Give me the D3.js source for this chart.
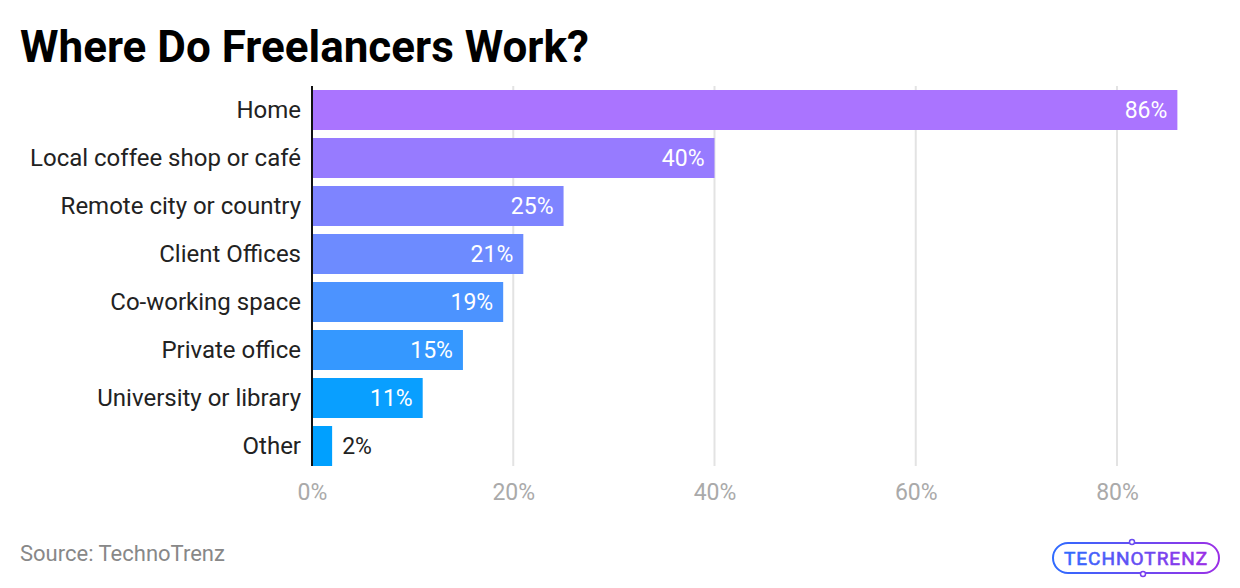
<!DOCTYPE html>
<html>
<head>
<meta charset="utf-8">
<script src="https://cdn.jsdelivr.net/npm/d3@7"></script>
<style>
  body { margin: 0; background: #fff; }
  svg { font-family: Roboto, "Noto Sans", sans-serif; display: block; }
</style>
</head>
<body>
<svg width="1240" height="588"></svg>
<script>
// data
var categories = ["Home", "Local coffee shop or café", "Remote city or country", "Client Offices",
  "Co-working space", "Private office", "University or library", "Other"];
var values = [86, 40, 25, 21, 19, 15, 11, 2];
var barColors = ["#aa74ff", "#977bff", "#7e84ff", "#6d8bff", "#4c93ff", "#3598ff", "#099fff", "#00a0ff"];
var tickValues = [0, 20, 40, 60, 80];

var svg = d3.select('svg');

var x = d3.scaleLinear().domain([0, 80]).range([312, 1117]);
var y = d3.scaleBand().domain(categories).range([86, 470])
  .paddingInner(1 / 6).paddingOuter(1 / 12);

// title
svg.append('text')
  .attr('x', 20).attr('y', 62)
  .attr('font-size', 44).attr('font-weight', 700).attr('fill', '#000')
  .text('Where Do Freelancers Work?');

// grid lines
svg.append('g').selectAll('line')
  .data(tickValues.slice(1))
  .enter().append('line')
  .attr('x1', function (d) { return x(d); })
  .attr('x2', function (d) { return x(d); })
  .attr('y1', 86).attr('y2', 466)
  .attr('stroke', '#e3e3e3').attr('stroke-width', 2);

// x axis labels
var xAxis = d3.axisBottom(x).tickValues(tickValues)
  .tickFormat(function (d) { return d + '%'; })
  .tickSize(0).tickPadding(0);
var gx = svg.append('g').attr('transform', 'translate(0,484)').call(xAxis);
gx.select('.domain').remove();
gx.selectAll('text').attr('font-size', 23).attr('fill', '#aaaaaa')
  .attr('font-family', 'Roboto, sans-serif').attr('dy', '0.71em');

// bars
svg.append('g').selectAll('rect')
  .data(values)
  .enter().append('rect')
  .attr('x', x(0))
  .attr('y', function (d, i) { return y(categories[i]); })
  .attr('width', function (d) { return x(d) - x(0); })
  .attr('height', y.bandwidth())
  .attr('fill', function (d, i) { return barColors[i]; });

// y axis labels
var yAxis = d3.axisLeft(y).tickSize(0).tickPadding(11);
var gy = svg.append('g').attr('transform', 'translate(' + x(0) + ',0)').call(yAxis);
gy.select('.domain').remove();
gy.selectAll('text').attr('font-size', 24).attr('fill', '#222')
  .attr('font-family', 'Roboto, sans-serif');

svg.append('line')
  .attr('x1', x(0)).attr('x2', x(0)).attr('y1', 86).attr('y2', 466)
  .attr('stroke', '#111').attr('stroke-width', 2);

// value labels
svg.append('g').selectAll('text')
  .data(values)
  .enter().append('text')
  .attr('x', function (d) { return (x(d) - x(0) > 60) ? x(d) - 10 : x(d) + 10; })
  .attr('y', function (d, i) { return y(categories[i]) + y.bandwidth() / 2; })
  .attr('dy', '0.35em')
  .attr('text-anchor', function (d) { return (x(d) - x(0) > 60) ? 'end' : 'start'; })
  .attr('font-size', 23)
  .attr('fill', function (d) { return (x(d) - x(0) > 60) ? '#fff' : '#222'; })
  .text(function (d) { return d + '%'; });

// source
svg.append('text')
  .attr('x', 20).attr('y', 561)
  .attr('font-size', 22).attr('fill', '#888')
  .text('Source: TechnoTrenz');

// logo
var defs = svg.append('defs');
var grad = defs.append('linearGradient').attr('id', 'logoGrad')
  .attr('x1', '0%').attr('x2', '100%');
grad.append('stop').attr('offset', '0%').attr('stop-color', '#2f6bff');
grad.append('stop').attr('offset', '100%').attr('stop-color', '#9b2fe6');

var logo = svg.append('g');
logo.append('rect')
  .attr('x', 1053).attr('y', 543).attr('width', 166).attr('height', 30).attr('rx', 15)
  .attr('fill', 'none').attr('stroke', 'url(#logoGrad)').attr('stroke-width', 2);
logo.append('text')
  .attr('x', 1136).attr('y', 565).attr('text-anchor', 'middle')
  .attr('font-size', 19).attr('font-weight', 400).attr('letter-spacing', 1)
  .attr('fill', 'url(#logoGrad)').attr('stroke', 'url(#logoGrad)').attr('stroke-width', 0.6)
  .text('TECHNOTRENZ');
logo.append('circle').attr('cx', 1132).attr('cy', 542).attr('r', 2.5)
  .attr('fill', '#fff').attr('stroke', '#6a4cf0').attr('stroke-width', 1.5);
logo.append('circle').attr('cx', 1143).attr('cy', 574).attr('r', 2.5)
  .attr('fill', '#fff').attr('stroke', '#7a3ff0').attr('stroke-width', 1.5);
</script>
</body>
</html>
